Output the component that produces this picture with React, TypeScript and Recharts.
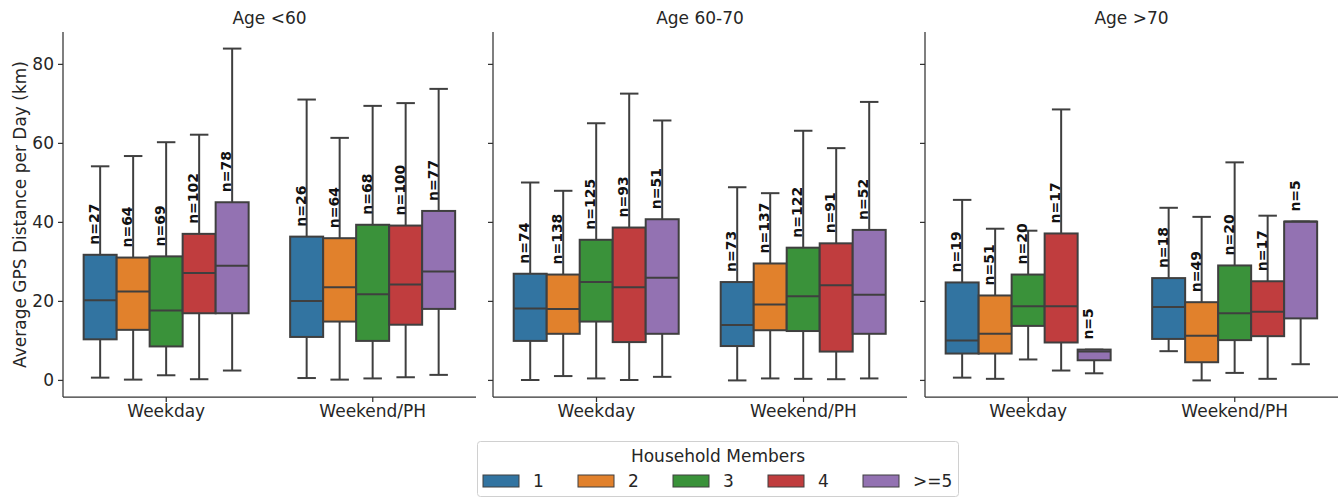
import React from 'react';
import { BarChart, Bar, XAxis, YAxis } from 'recharts';

const categories = ['Weekday', 'Weekend/PH'];
const householdMembers = ['1', '2', '3', '4', '>=5'];
const panelTitles = ['Age <60', 'Age 60-70', 'Age >70'];
const yTicks = [0, 20, 40, 60, 80];
const palette = ['#3274a1', '#e1812c', '#3a923a', '#c03d3e', '#9372b2'];

// each array: [Weekday[], Weekend/PH[]], inner order = household members 1, 2, 3, 4, >=5
const under60Low = [[0.7, 0.2, 1.3, 0.3, 2.5], [0.6, 0.2, 0.5, 0.8, 1.4]];
const under60Q1 = [[10.4, 12.8, 8.6, 17.0, 17.0], [11.0, 14.9, 10.0, 14.1, 18.1]];
const under60Median = [[20.3, 22.5, 17.7, 27.2, 29.0], [20.1, 23.6, 21.8, 24.3, 27.6]];
const under60Q3 = [[31.8, 31.1, 31.4, 37.1, 45.1], [36.4, 36.0, 39.4, 39.2, 42.9]];
const under60High = [[54.2, 56.8, 60.3, 62.2, 84.0], [71.1, 61.4, 69.5, 70.2, 73.8]];
const under60N = [[27, 64, 69, 102, 78], [26, 64, 68, 100, 77]];

const age6070Low = [[0.1, 1.1, 0.5, 0.1, 0.9], [0.0, 0.5, 0.4, 0.3, 0.5]];
const age6070Q1 = [[10.0, 11.8, 14.9, 9.7, 11.8], [8.7, 12.7, 12.5, 7.3, 11.8]];
const age6070Median = [[18.2, 18.1, 24.9, 23.6, 26.0], [14.0, 19.2, 21.3, 24.1, 21.7]];
const age6070Q3 = [[27.0, 26.8, 35.6, 38.7, 40.8], [24.9, 29.6, 33.6, 34.7, 38.1]];
const age6070High = [[50.1, 48.0, 65.1, 72.6, 65.8], [48.9, 47.4, 63.2, 58.8, 70.5]];
const age6070N = [[74, 138, 125, 93, 51], [73, 137, 122, 91, 52]];

const over70Low = [[0.7, 0.4, 5.3, 2.5, 1.8], [7.4, 0.0, 1.9, 0.4, 4.1]];
const over70Q1 = [[6.8, 6.8, 13.8, 9.6, 5.1], [10.5, 4.6, 10.2, 11.2, 15.7]];
const over70Median = [[10.1, 11.8, 18.8, 18.8, 7.3], [18.6, 11.3, 17.0, 17.4, 40.2]];
const over70Q3 = [[24.8, 21.5, 26.8, 37.2, 7.8], [25.9, 19.8, 29.1, 25.1, 40.2]];
const over70High = [[45.7, 38.4, 37.9, 68.6, 7.8], [43.7, 41.4, 55.2, 41.7, 40.2]];
const over70N = [[19, 51, 20, 17, 5], [18, 49, 20, 17, 5]];

const FONT = '"DejaVu Sans", sans-serif';
const TEXT = '#262626';
const EDGE = '#3f3f3f';
const AXIS = '#333333';

const panels = [
  { title: panelTitles[0], low: under60Low, q1: under60Q1, median: under60Median, q3: under60Q3, high: under60High, n: under60N },
  { title: panelTitles[1], low: age6070Low, q1: age6070Q1, median: age6070Median, q3: age6070Q3, high: age6070High, n: age6070N },
  { title: panelTitles[2], low: over70Low, q1: over70Q1, median: over70Median, q3: over70Q3, high: over70High, n: over70N },
];

// chart frames in page coords
const frames = [
  { left: 0, width: 486, axisWidth: 63, right: 10, showLabels: true },
  { left: 473, width: 444, axisWidth: 20, right: 10, showLabels: false },
  { left: 905, width: 433, axisWidth: 20, right: 0, showLabels: false },
];

const buildRows = (p: any) =>
  categories.map((category, c) => {
    const row: any = { category };
    householdMembers.forEach((_, g) => {
      row[`box${g}`] = [p.low[c][g], p.high[c][g]];
      row[`stats${g}`] = {
        low: p.low[c][g], q1: p.q1[c][g], median: p.median[c][g],
        q3: p.q3[c][g], high: p.high[c][g], n: p.n[c][g],
      };
    });
    return row;
  });

const BoxShape = (props: any) => {
  const { x, y, width, height, payload, fill, group } = props;
  const s = payload[`stats${group}`];
  const span = s.high - s.low;
  const toY = (v: number) => (span > 0 ? y + (height * (s.high - v)) / span : y);
  const cx = x + width / 2;
  const cap = width * 0.28;
  const yHigh = toY(s.high);
  const yQ3 = toY(s.q3);
  const yMed = toY(s.median);
  const yQ1 = toY(s.q1);
  const yLow = toY(s.low);
  const ty = yQ3 - 10;
  return (
    <g>
      <line x1={cx} x2={cx} y1={yHigh} y2={yQ3} stroke={EDGE} strokeWidth={2} />
      <line x1={cx} x2={cx} y1={yQ1} y2={yLow} stroke={EDGE} strokeWidth={2} />
      <line x1={cx - cap} x2={cx + cap} y1={yHigh} y2={yHigh} stroke={EDGE} strokeWidth={2} />
      <line x1={cx - cap} x2={cx + cap} y1={yLow} y2={yLow} stroke={EDGE} strokeWidth={2} />
      <rect x={x} y={yQ3} width={width} height={Math.max(yQ1 - yQ3, 0.5)} fill={fill} stroke={EDGE} strokeWidth={2} />
      <line x1={x} x2={x + width} y1={yMed} y2={yMed} stroke={EDGE} strokeWidth={2} />
      <text
        x={cx - 1}
        y={ty}
        transform={`rotate(-90 ${cx - 1} ${ty})`}
        textAnchor="start"
        fontFamily={FONT}
        fontSize={14}
        fontWeight="bold"
        fill="#111"
      >
        {`n=${s.n}`}
      </text>
    </g>
  );
};

// shared y axis: other panels keep tick marks but no labels
const NoLabel = () => <g />;

const Panel = ({ panel, frame }: any) => {
  const rows = buildRows(panel);
  return (
    <div style={{ position: 'absolute', left: frame.left, top: 0 }}>
      <BarChart
        width={frame.width}
        height={440}
        data={rows}
        margin={{ top: 32, right: frame.right, bottom: 13, left: 0 }}
        barCategoryGap="10%"
        barGap={0}
      >
        <XAxis
          dataKey="category"
          height={30}
          tickSize={5}
          tickMargin={3}
          axisLine={{ stroke: AXIS, strokeWidth: 1.25 }}
          tickLine={{ stroke: AXIS, strokeWidth: 1.25 }}
          tick={{ fill: TEXT, fontSize: 17, fontFamily: FONT }}
        />
        <YAxis
          type="number"
          domain={[-4.2, 88.2]}
          ticks={yTicks}
          interval={0}
          width={frame.axisWidth}
          tickSize={5}
          tickMargin={4}
          allowDataOverflow
          axisLine={{ stroke: AXIS, strokeWidth: 1.25 }}
          tickLine={{ stroke: AXIS, strokeWidth: 1.25 }}
          tick={frame.showLabels ? { fill: TEXT, fontSize: 17, fontFamily: FONT } : NoLabel}
        />
        {householdMembers.map((m, g) => (
          <Bar
            key={m}
            dataKey={`box${g}`}
            name={m}
            fill={palette[g]}
            isAnimationActive={false}
            shape={(p: any) => <BoxShape {...p} group={g} fill={palette[g]} />}
          />
        ))}
      </BarChart>
    </div>
  );
};

const titleCenters = [269.5, 700, 1131.5];
const legendX = [483, 578, 673, 768, 863];

export default function App() {
  return (
    <div
      style={{
        position: 'absolute', left: 0, top: 0, width: 1338, height: 498,
        background: '#fff', overflow: 'hidden', fontFamily: FONT,
      }}
    >
      <svg width={1338} height={498} style={{ position: 'absolute', left: 0, top: 0 }}>
        {panels.map((p, i) => (
          <text key={p.title} x={titleCenters[i]} y={24} textAnchor="middle" fontSize={17} fill={TEXT} fontFamily={FONT}>
            {p.title}
          </text>
        ))}
        <text
          x={25.5}
          y={214.5}
          transform="rotate(-90 25.5 214.5)"
          textAnchor="middle"
          fontSize={17}
          fill={TEXT}
          fontFamily={FONT}
        >
          Average GPS Distance per Day (km)
        </text>
        <rect x={477.5} y={441.5} width={481} height={55} rx={3} fill="#fff" stroke="#d0d0d0" strokeWidth={1} />
        <text x={718} y={462} textAnchor="middle" fontSize={17} fill={TEXT} fontFamily={FONT}>
          Household Members
        </text>
        {householdMembers.map((m, g) => (
          <g key={m}>
            <rect x={legendX[g]} y={475} width={36} height={12} fill={palette[g]} stroke={EDGE} strokeWidth={1} />
            <text x={legendX[g] + 50} y={487} fontSize={17} fill={TEXT} fontFamily={FONT}>
              {m}
            </text>
          </g>
        ))}
      </svg>
      {panels.map((p, i) => (
        <Panel key={p.title} panel={p} frame={frames[i]} />
      ))}
    </div>
  );
}
